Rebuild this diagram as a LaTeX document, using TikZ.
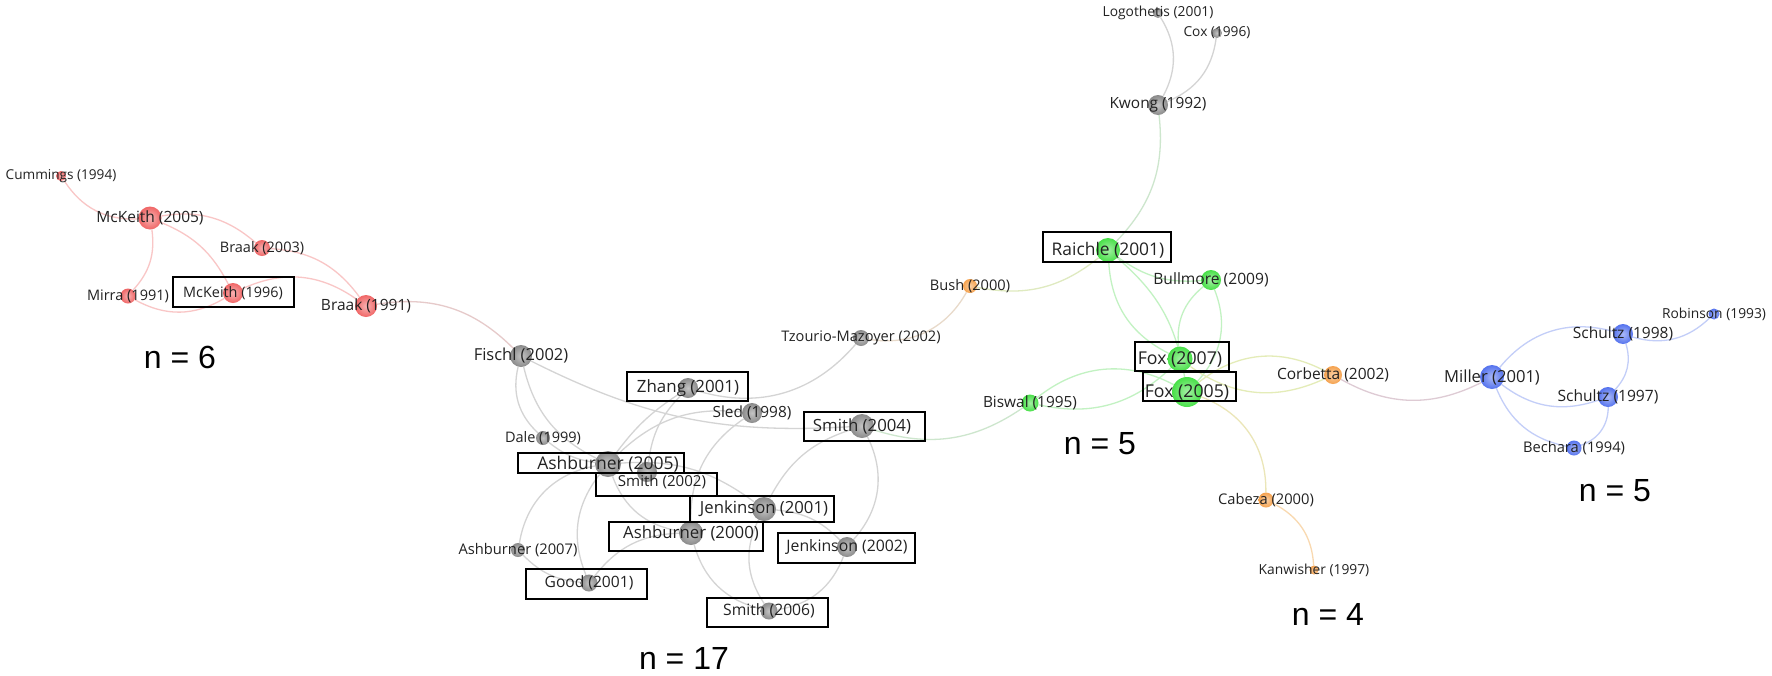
\documentclass[tikz,border=0pt]{standalone}
\usepackage{fontspec}
\setmainfont{Open Sans}
\newfontfamily\nfont{Liberation Sans}
\pgfdeclarelayer{bg}
\pgfdeclarelayer{edges}
\pgfsetlayers{bg,edges,main}
\definecolor{cred}{HTML}{F06666}
\definecolor{cgray}{HTML}{8A8A8A}
\definecolor{cgreen}{HTML}{48E048}
\definecolor{corange}{HTML}{F5A24E}
\definecolor{cblue}{HTML}{5573EE}
\definecolor{ered}{HTML}{F9C6C6}
\definecolor{egray}{HTML}{D4D4D4}
\definecolor{egreen}{HTML}{C2F2C2}
\definecolor{eorange}{HTML}{F9D9B0}
\definecolor{eblue}{HTML}{C3CEF8}
\definecolor{eredgray}{HTML}{E6CACA}
\definecolor{egraygreen}{HTML}{CDE6CD}
\definecolor{egrayorange}{HTML}{E8DACA}
\definecolor{eorangegreen}{HTML}{DFEAC0}
\definecolor{egreenyellow}{HTML}{E4ECB8}
\definecolor{egreenorange}{HTML}{EBE6B8}
\definecolor{eorangeblue}{HTML}{DECBD4}
\definecolor{labtxt}{HTML}{222222}
\begin{document}
\begin{tikzpicture}[x=1pt,y=-1pt,
  ball/.style 2 args={circle, inner sep=0pt, minimum size=#2, shade, inner color=#1!50!white, outer color=#1},
  lab/.style={font=\fontsize{#1}{#1}\selectfont, text=labtxt, inner sep=0pt},
  hlbox/.style 2 args={draw=black, line width=2.5pt, minimum width=#1, minimum height=#2, inner sep=0pt},
  nlab/.style={font=\nfont\fontsize{32pt}{32pt}\selectfont, text=black, inner sep=0pt},
  ed/.style={line width=1.3pt, draw=#1}]
\begin{pgfonlayer}{bg}
\fill[white] (0,0) rectangle (1772,675);
\end{pgfonlayer}
\useasboundingbox (0,0) rectangle (1772,675);

% ---------- circles ----------
% red
\node[ball={cred}{10pt}] (cum) at (61,176) {};
\node[ball={cred}{23pt}] (mk05) at (150,218) {};
\node[ball={cred}{16pt}] (br03) at (262,248) {};
\node[ball={cred}{15pt}] (mir) at (128,296) {};
\node[ball={cred}{20pt}] (mk96) at (233,293) {};
\node[ball={cred}{22pt}] (br91) at (366,306) {};
% gray
\node[ball={cgray}{22pt}] (fis) at (521,356) {};
\node[ball={cgray}{20pt}] (zha) at (688,388) {};
\node[ball={cgray}{16pt}] (tzo) at (861,338) {};
\node[ball={cgray}{20pt}] (sle) at (752,413) {};
\node[ball={cgray}{24pt}] (sm04) at (862,426) {};
\node[ball={cgray}{14pt}] (dal) at (543,438) {};
\node[ball={cgray}{26pt}] (as05) at (608,464) {};
\node[ball={cgray}{20pt}] (sm02) at (647,472) {};
\node[ball={cgray}{24pt}] (je01) at (764,509) {};
\node[ball={cgray}{24pt}] (as00) at (691,533) {};
\node[ball={cgray}{20pt}] (je02) at (847,547) {};
\node[ball={cgray}{14pt}] (as07) at (518,550) {};
\node[ball={cgray}{17pt}] (goo) at (589,583) {};
\node[ball={cgray}{17pt}] (sm06) at (769,611) {};
\node[ball={cgray}{20pt}] (kwo) at (1158,105) {};
\node[ball={cgray}{10pt}] (log) at (1158,13) {};
\node[ball={cgray}{10pt}] (cox) at (1217,33) {};
% green
\node[ball={cgreen}{24pt}] (rai) at (1108,250) {};
\node[ball={cgreen}{20pt}] (bul) at (1211,280) {};
\node[ball={cgreen}{25pt}] (fo07) at (1180,359) {};
\node[ball={cgreen}{30pt}] (fo05) at (1187,392) {};
\node[ball={cgreen}{17pt}] (bis) at (1030,403) {};
% orange
\node[ball={corange}{14pt}] (bus) at (970,286) {};
\node[ball={corange}{18pt}] (cor) at (1333,375) {};
\node[ball={corange}{15pt}] (cab) at (1266,500) {};
\node[ball={corange}{9pt}] (kan) at (1314,570) {};
% blue
\node[ball={cblue}{24pt}] (mil) at (1492,377) {};
\node[ball={cblue}{20pt}] (s98) at (1623,334) {};
\node[ball={cblue}{20pt}] (s97) at (1608,397) {};
\node[ball={cblue}{15pt}] (bec) at (1574,448) {};
\node[ball={cblue}{11pt}] (rob) at (1714,314) {};

% ---------- links ----------
\begin{pgfonlayer}{edges}
% red
\draw[ed=ered] (cum) to[bend right=30] (mk05);
\draw[ed=ered] (mk05) to[bend left=25] (br03);
\draw[ed=ered] (mk05) to[bend left=25] (mir);
\draw[ed=ered] (mk05) to[bend left=20] (mk96);
\draw[ed=ered] (mir) to[bend right=30] (mk96);
\draw[ed=ered] (mk96) to[bend left=30] (br91);
\draw[ed=ered] (br03) to[bend left=25] (br91);
\draw[ed=eredgray] (br91) to[bend left=27] (fis);
% gray
\draw[ed=egray] (fis) to[bend right=15] (sm04);
\draw[ed=egray] (fis) to[bend right=30] (dal);
\draw[ed=egray] (fis) to[bend right=25] (as05);
\draw[ed=egray] (dal) to[bend right=15] (as05);
\draw[ed=egray] (zha) to[bend right=10] (as05);
\draw[ed=egray] (zha) to[bend right=18] (sm02);
\draw[ed=egray] (zha) to[bend right=33] (tzo);
\draw[ed=egray] (as05) to[bend left=25] (sle);
\draw[ed=egray] (as05) to[bend left=20] (je01);
\draw[ed=egray] (as05) to[bend right=30] (as00);
\draw[ed=egray] (sle) to[bend right=28] (as00);
\draw[ed=egray] (sm04) to[bend right=22] (je01);
\draw[ed=egray] (sm04) to[bend left=34] (je02);
\draw[ed=egray] (je01) to[bend left=20] (je02);
\draw[ed=egray] (as00) to[bend right=30] (sm06);
\draw[ed=egray] (je01) to[bend right=30] (sm06);
\draw[ed=egray] (je02) to[bend left=30] (sm06);
\draw[ed=egray] (as07) to[bend right=20] (goo);
\draw[ed=egray] (goo) to[bend left=25] (as00);
\draw[ed=egray] (goo) to[bend left=30] (as05);
\draw[ed=egray] (as07) to[bend left=35] (as05);
\draw[ed=egray] (kwo) to[bend right=30] (log);
\draw[ed=egray] (kwo) to[bend right=30] (cox);
% mixed
\draw[ed=egraygreen] (sm04) to[bend right=26] (bis);
\draw[ed=egrayorange] (tzo) to[bend right=35] (bus);
\draw[ed=eorangegreen] (bus) to[bend right=25] (rai);
\draw[ed=egraygreen] (kwo) to[bend left=25] (rai);
% green
\draw[ed=egreen] (rai) to[bend right=30] (fo07);
\draw[ed=egreen] (rai) to[bend left=20] (fo05);
\draw[ed=egreen] (rai) to[bend right=20] (bul);
\draw[ed=egreen] (bul) to[bend right=28] (fo07);
\draw[ed=egreen] (bul) to[bend left=32] (fo05);
\draw[ed=egreen] (bis) to[bend left=33] (fo05);
\draw[ed=egreen] (bis) to[bend right=28] (fo07);
\draw[ed=egreenyellow] (fo05) to[bend left=33] (cor);
\draw[ed=egreenyellow] (fo07) to[bend right=30] (cor);
\draw[ed=egreenorange] (fo05) to[bend left=35] (cab);
% orange
\draw[ed=eorange] (cab) to[bend left=30] (kan);
\draw[ed=eorangeblue] (cor) to[bend right=28] (mil);
% blue
\draw[ed=eblue] (mil) to[bend left=33] (s98);
\draw[ed=eblue] (mil) to[bend right=28] (s97);
\draw[ed=eblue] (mil) to[bend right=28] (bec);
\draw[ed=eblue] (s98) to[bend left=30] (s97);
\draw[ed=eblue] (s97) to[bend left=35] (bec);
\draw[ed=eblue] (s98) to[bend right=30] (rob);
\end{pgfonlayer}

% ---------- labels ----------
\node[lab=13.6pt] (cumL) at (cum) {Cummings (1994)};
\node[lab=15.5pt] (mk05L) at (mk05) {McKeith (2005)};
\node[lab=14.5pt] (br03L) at (br03) {Braak (2003)};
\node[lab=14.5pt] (mirL) at (mir) {Mirra (1991)};
\node[lab=14.4pt] (mk96L) at (mk96) {McKeith (1996)};
\node[lab=15.5pt] (br91L) at (br91) {Braak (1991)};
\node[lab=16.5pt] (fisL) at (fis) {Fischl (2002)};
\node[lab=16.9pt] (zhaL) at (zha) {Zhang (2001)};
\node[lab=14.6pt] (tzoL) at (tzo) {Tzourio-Mazoyer (2002)};
\node[lab=15.4pt] (sleL) at (sle) {Sled (1998)};
\node[lab=16.8pt] (sm04L) at (sm04) {Smith (2004)};
\node[lab=14.5pt] (dalL) at (dal) {Dale (1999)};
\node[lab=17.5pt] (as05L) at (as05) {Ashburner (2005)};
\node[lab=15.1pt] (sm02L) at (662,482) {Smith (2002)};
\node[lab=16.7pt] (je01L) at (je01) {Jenkinson (2001)};
\node[lab=16.8pt] (as00L) at (as00) {Ashburner (2000)};
\node[lab=15.8pt] (je02L) at (je02) {Jenkinson (2002)};
\node[lab=14.7pt] (as07L) at (as07) {Ashburner (2007)};
\node[lab=15.6pt] (gooL) at (goo) {Good (2001)};
\node[lab=15.7pt] (sm06L) at (sm06) {Smith (2006)};
\node[lab=15.4pt] (kwoL) at (kwo) {Kwong (1992)};
\node[lab=13.8pt] (logL) at (log) {Logothetis (2001)};
\node[lab=13.7pt] (coxL) at (cox) {Cox (1996)};
\node[lab=17.4pt] (raiL) at (rai) {Raichle (2001)};
\node[lab=15.6pt] (bulL) at (bul) {Bullmore (2009)};
\node[lab=17.7pt] (fo07L) at (fo07) {Fox (2007)};
\node[lab=17.7pt] (fo05L) at (fo05) {Fox (2005)};
\node[lab=15.4pt] (bisL) at (bis) {Biswal (1995)};
\node[lab=14.6pt] (busL) at (bus) {Bush (2000)};
\node[lab=15.5pt] (corL) at (cor) {Corbetta (2002)};
\node[lab=14.7pt] (cabL) at (cab) {Cabeza (2000)};
\node[lab=13.8pt] (kanL) at (kan) {Kanwisher (1997)};
\node[lab=16.6pt] (milL) at (mil) {Miller (2001)};
\node[lab=15.5pt] (s98L) at (s98) {Schultz (1998)};
\node[lab=15.6pt] (s97L) at (s97) {Schultz (1997)};
\node[lab=14.7pt] (becL) at (bec) {Bechara (1994)};
\node[lab=13.8pt] (robL) at (rob) {Robinson (1993)};

% ---------- highlight boxes ----------
\node[hlbox={121pt}{30pt}] (bx1) at (233.5,292) {};
\node[hlbox={121pt}{29pt}] (bx2) at (687.5,386.5) {};
\node[hlbox={121pt}{29pt}] (bx3) at (864.5,426.5) {};
\node[hlbox={166pt}{20pt}] (bx4) at (601,463) {};
\node[hlbox={121pt}{23pt}] (bx5) at (656.5,484.5) {};
\node[hlbox={144pt}{26pt}] (bx6) at (762,509) {};
\node[hlbox={154pt}{29pt}] (bx7) at (686,536.5) {};
\node[hlbox={137pt}{30pt}] (bx8) at (846.5,548) {};
\node[hlbox={121pt}{30pt}] (bx9) at (586.5,584) {};
\node[hlbox={121pt}{29pt}] (bx10) at (767.5,612.5) {};
\node[hlbox={128pt}{30pt}] (bx11) at (1107,247) {};
\node[hlbox={94pt}{29pt}] (bx12) at (1182,356.5) {};
\node[hlbox={93pt}{29pt}] (bx13) at (1189.5,386.5) {};

% ---------- cluster sizes ----------
\node[nlab] (n6) at (180,357) {n = 6};
\node[nlab] (n17) at (684,658) {n = 17};
\node[nlab] (n5g) at (1100,444) {n = 5};
\node[nlab] (n4) at (1328,614) {n = 4};
\node[nlab] (n5b) at (1615,491) {n = 5};
\end{tikzpicture}
\end{document}
